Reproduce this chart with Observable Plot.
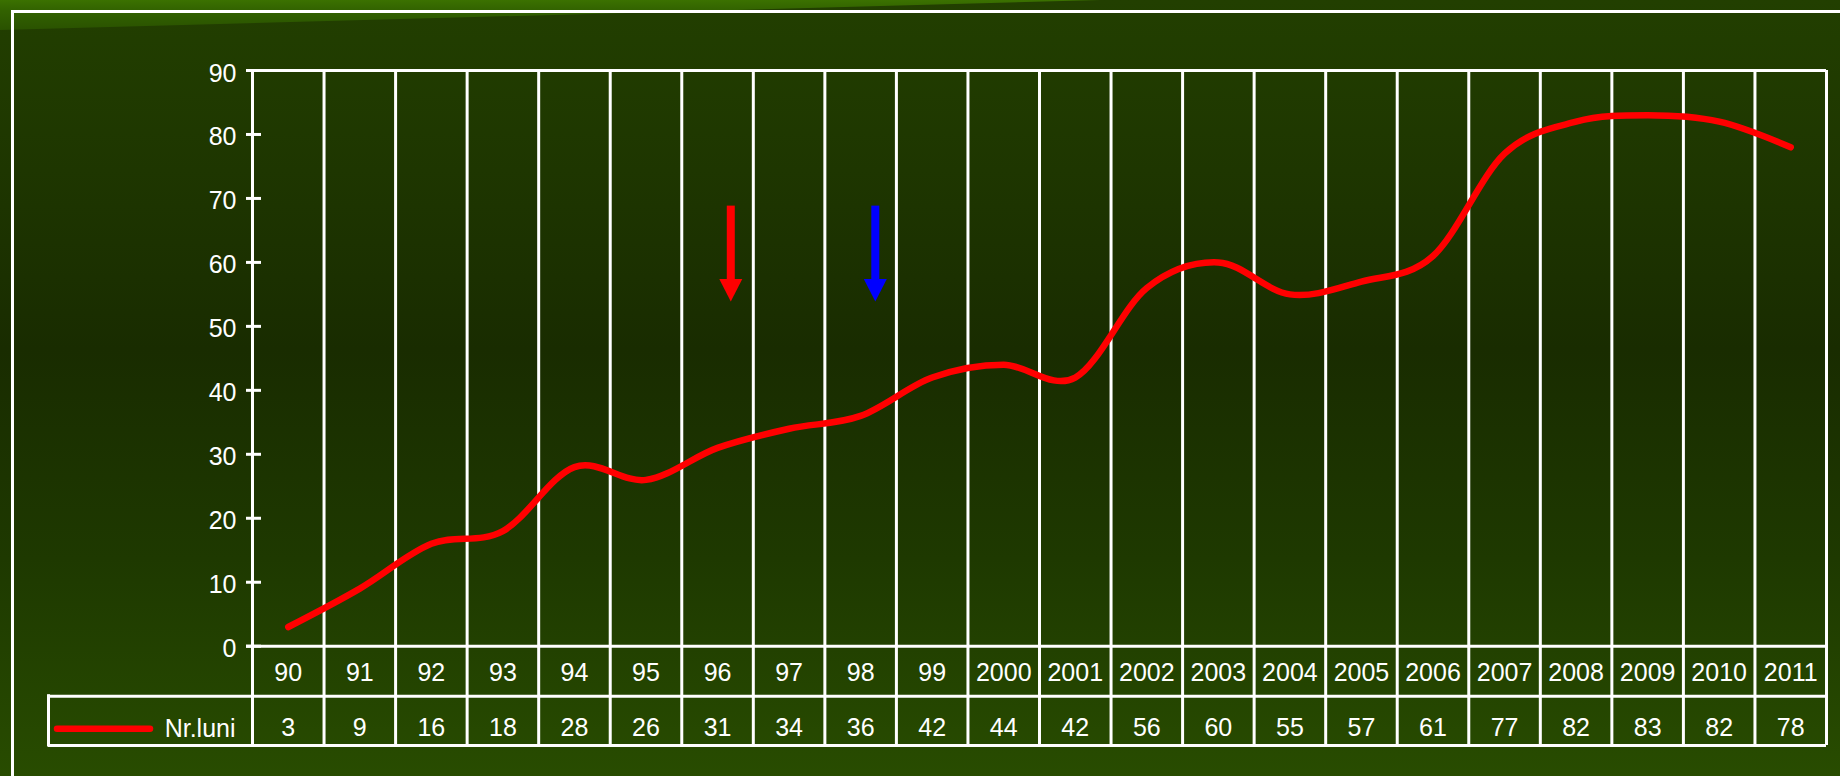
<!DOCTYPE html>
<html>
<head>
<meta charset="utf-8">
<script src="https://cdn.jsdelivr.net/npm/d3@7"></script>
<script src="https://cdn.jsdelivr.net/npm/@observablehq/plot@0.6"></script>
<style>
html, body { margin: 0; padding: 0; }
body {
  width: 1840px; height: 776px; overflow: hidden; position: relative;
  background: linear-gradient(to bottom, #223f00 0%, #1e3600 22%, #192c00 45%, #1e3900 72%, #284c00 100%);
}
#wedge {
  position: absolute; left: 0; top: 0; width: 1100px; height: 30px;
  background: linear-gradient(to bottom, #3b7100 0%, #326200 35%, #2a5200 100%);
  clip-path: polygon(0 0, 100% 0, 0 100%);
}
#frame {
  position: absolute; left: 11px; top: 9.5px; width: 1900px; height: 900px;
  border: 3px solid #fff; box-sizing: border-box;
}
#chart { position: absolute; left: 0; top: 0; }
</style>
</head>
<body>
<div id="wedge"></div>
<div id="frame"></div>
<div id="chart"></div>
<script>
// ---- data ----
const years = ["90","91","92","93","94","95","96","97","98","99","2000","2001","2002","2003","2004","2005","2006","2007","2008","2009","2010","2011"];
const values = [3,9,16,18,28,26,31,34,36,42,44,42,56,60,55,57,61,77,82,83,82,78];
const yTicks = [0,10,20,30,40,50,60,70,80,90];
const seriesName = "Nr.luni";
// annotation arrows: band (year), position inside band, top value, tip value
const arrowYears = ["96", "98"];
const arrowOffsets = [0.685, 0.705];
const arrowTops = [68.8, 68.8];
const arrowTips = [53.9, 53.9];
const arrowColors = ["#ff0000", "#0000ff"];

// ---- derived tables ----
const data = years.map((year, i) => ({i, year, value: values[i]}));
const bounds = d3.range(0, years.length + 1);
const arrows = arrowYears.map((y, k) => ({
  x: years.indexOf(y) + arrowOffsets[k], top: arrowTops[k], tip: arrowTips[k], color: arrowColors[k]
}));

const W = 1840, H = 776;
const mL = 252, mR = 14, mT = 70, mB = 130.3;
const rowH1 = 50, rowH2 = 99.3;   // table row bottoms (px below y=0)
const legendLeft = 204;           // px left of axis for the legend cell
const white = "#ffffff";
const red = "#ff0000";

const arrowHead = {
  draw(ctx) {
    ctx.moveTo(0, 0);
    ctx.lineTo(-11.5, -22.5);
    ctx.lineTo(11.5, -22.5);
    ctx.closePath();
  }
};

const chart = Plot.plot({
  width: W, height: H,
  marginLeft: mL, marginRight: mR, marginTop: mT, marginBottom: mB,
  style: {background: "transparent", color: white, fontFamily: "'Liberation Sans', Arial, Helvetica, sans-serif"},
  x: {domain: [0, years.length], axis: null},
  y: {domain: [0, 90], axis: null},
  marks: [
    // vertical grid / table column lines
    Plot.ruleX(bounds, {x: d => d, stroke: white, strokeWidth: 3, insetBottom: -rowH2}),
    // top border
    Plot.ruleY([90], {stroke: white, strokeWidth: 3, insetLeft: -6}),
    // y ticks
    Plot.ruleY(yTicks, {y: d => d, x1: 0, x2: 0, insetLeft: -6, insetRight: -9, stroke: white, strokeWidth: 3}),
    // zero line
    Plot.ruleY([0], {stroke: white, strokeWidth: 3, insetLeft: -6}),
    // table row lines
    Plot.ruleY([0], {dy: rowH1, insetLeft: -legendLeft, stroke: white, strokeWidth: 3}),
    Plot.ruleY([0], {dy: rowH2, insetLeft: -legendLeft, stroke: white, strokeWidth: 3}),
    // legend cell left border
    Plot.ruleX([0], {y1: 0, y2: 0, dx: -legendLeft, insetTop: rowH1 - 1.5, insetBottom: -rowH2 - 1.5, stroke: white, strokeWidth: 3}),
    // y tick labels
    Plot.text(yTicks, {x: 0, y: d => d, text: d => String(d), dx: -16, dy: 3, textAnchor: "end", fill: white, fontSize: 25}),
    // year row
    Plot.text(data, {x: d => d.i + 0.5, y: 0, text: "year", dy: 27, fill: white, fontSize: 25}),
    // value row
    Plot.text(data, {x: d => d.i + 0.5, y: 0, text: d => String(d.value), dy: 82, fill: white, fontSize: 25}),
    // legend
    Plot.ruleY([0], {x1: 0, x2: 0, insetLeft: -195, insetRight: 102, dy: 82.6, stroke: red, strokeWidth: 6.5, strokeLinecap: "round"}),
    Plot.text([seriesName], {x: 0, y: 0, text: d => d, dx: -17, dy: 83, textAnchor: "end", fill: white, fontSize: 25, style: "letter-spacing:1px"}),
    // series line (Excel-style smoothing = uniform Catmull-Rom)
    Plot.line(data, {x: d => d.i + 0.5, y: "value", stroke: red, strokeWidth: 6.5, curve: d3.curveCatmullRom.alpha(0), strokeLinejoin: "round", strokeLinecap: "round"}),
    // annotation arrows
    ...arrows.flatMap(a => [
      Plot.ruleX([a], {x: "x", y1: "top", y2: "tip", insetBottom: 20, stroke: a.color, strokeWidth: 8}),
      Plot.dot([a], {x: "x", y: "tip", symbol: arrowHead, fill: a.color, stroke: "none", r: 10})
    ])
  ]
});
document.getElementById("chart").append(chart);
</script>
</body>
</html>
